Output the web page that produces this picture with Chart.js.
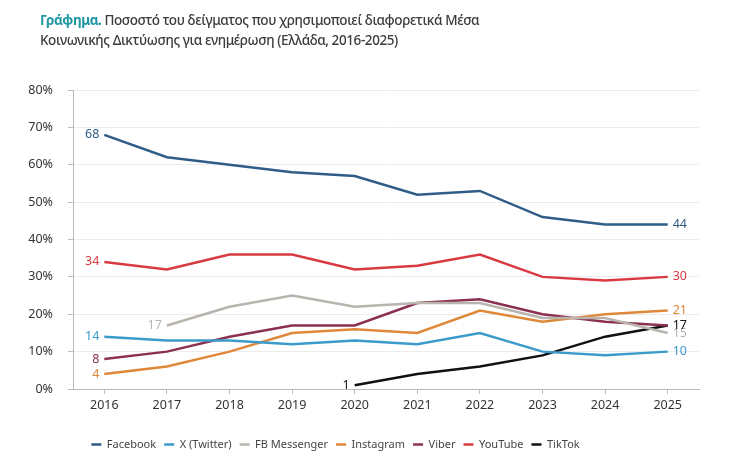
<!DOCTYPE html>
<html lang="el">
<head>
  <meta charset="UTF-8" />
  <title>Μέσα Κοινωνικής Δικτύωσης για ενημέρωση</title>
  <script src="https://cdn.jsdelivr.net/npm/chart.js"></script>
  <style>
    body { margin: 0; background: #fff; font-family: "Noto Sans", sans-serif; }
    .wrap { position: relative; width: 734px; height: 471px; }
    .title { position: absolute; left: 40px; top: 10px; font-size: 13.5px; letter-spacing: -0.4px; line-height: 20px; color: #3b3b3b; font-weight: 500; }
    .title b { color: #1f98a3; font-weight: 700; }
    canvas { position: absolute; left: 0; top: 0; }
  </style>
</head>
<body>
  <div class="wrap">
    <canvas id="chart" width="734" height="471"></canvas>
    <div class="title"><b>Γράφημα.</b> Ποσοστό του δείγματος που χρησιμοποιεί διαφορετικά Μέσα<br>Κοινωνικής Δικτύωσης για ενημέρωση (Ελλάδα, 2016-2025)</div>
  </div>

  <script>
    const years = ['2016', '2017', '2018', '2019', '2020', '2021', '2022', '2023', '2024', '2025'];
    const facebook  = [68, 62, 60, 58, 57, 52, 53, 46, 44, 44];
    const twitter   = [14, 13, 13, 12, 13, 12, 15, 10, 9, 10];
    const messenger = [null, 17, 22, 25, 22, 23, 23, 19, 19, 15];
    const instagram = [4, 6, 10, 15, 16, 15, 21, 18, 20, 21];
    const viber     = [8, 10, 14, 17, 17, 23, 24, 20, 18, 17];
    const youtube   = [34, 32, 36, 36, 32, 33, 36, 30, 29, 30];
    const tiktok    = [null, null, null, null, 1, 4, 6, 9, 14, 17];
    // Viber ends on 17 like TikTok, only TikTok's label is shown there
    const skipEndLabel = ['Viber'];

    const series = [
      { label: 'Facebook', data: facebook, color: '#2f5d87' },
      { label: 'X (Twitter)', data: twitter, color: '#3b9bcb' },
      { label: 'FB Messenger', data: messenger, color: '#b9b4ae' },
      { label: 'Instagram', data: instagram, color: '#e0883a' },
      { label: 'Viber', data: viber, color: '#8b3050' },
      { label: 'YouTube', data: youtube, color: '#d93a42' },
      { label: 'TikTok', data: tiktok, color: '#111111' }
    ];

    const endLabels = {
      id: 'endLabels',
      afterDatasetsDraw(chart) {
        const ctx = chart.ctx;
        ctx.save();
        ctx.font = '12.5px "Noto Sans", sans-serif';
        ctx.textBaseline = 'middle';
        chart.data.datasets.forEach((ds, i) => {
          const meta = chart.getDatasetMeta(i);
          const idx = ds.data.map((v, j) => v == null ? -1 : j).filter(j => j >= 0);
          const first = idx[0], last = idx[idx.length - 1];
          ctx.fillStyle = ds.borderColor;
          const p0 = meta.data[first];
          ctx.textAlign = 'right';
          ctx.fillText(ds.data[first], p0.x - 5, p0.y);
          if (!skipEndLabel.includes(ds.label)) {
            const p1 = meta.data[last];
            ctx.textAlign = 'left';
            ctx.fillText(ds.data[last], p1.x + 5, p1.y);
          }
        });
        ctx.restore();
      }
    };

    const shiftLegend = {
      id: 'shiftLegend',
      afterLayout(chart) {
        chart.legend.left -= 14;
        chart.legend.right -= 14;
      }
    };

    new Chart(document.getElementById('chart'), {
      type: 'line',
      data: {
        labels: years,
        datasets: series.map(s => ({
          label: s.label,
          data: s.data,
          borderColor: s.color,
          backgroundColor: s.color,
          borderWidth: 2.5,
          pointRadius: 0,
          tension: 0
        }))
      },
      options: {
        responsive: false,
        animation: false,
        layout: { padding: { top: 90, right: 35, bottom: 11, left: 0 } },
        plugins: {
          legend: {
            position: 'bottom',
            labels: {
              usePointStyle: true,
              pointStyle: 'line',
              pointStyleWidth: 10,
              padding: 8,
              color: '#444',
              font: { family: 'Noto Sans', size: 11 }
            }
          },
          tooltip: { enabled: false }
        },
        scales: {
          x: {
            offset: true,
            grid: { drawOnChartArea: false, drawTicks: true, tickLength: 5, tickColor: '#bbb' },
            border: { color: '#bbb' },
            ticks: { color: '#333', padding: 4, font: { family: 'Noto Sans', size: 12.5 } },
            afterFit: s => { s.height = 42; }
          },
          y: {
            min: 0,
            max: 80,
            ticks: { stepSize: 10, color: '#333', padding: 15, callback: v => v + '%', font: { family: 'Noto Sans', size: 12.5 } },
            grid: { color: '#ececec', tickColor: '#bbb', tickLength: 5 },
            border: { color: '#bbb' },
            afterFit: s => { s.width = 73; }
          }
        }
      },
      plugins: [endLabels, shiftLegend]
    });
  </script>
</body>
</html>
